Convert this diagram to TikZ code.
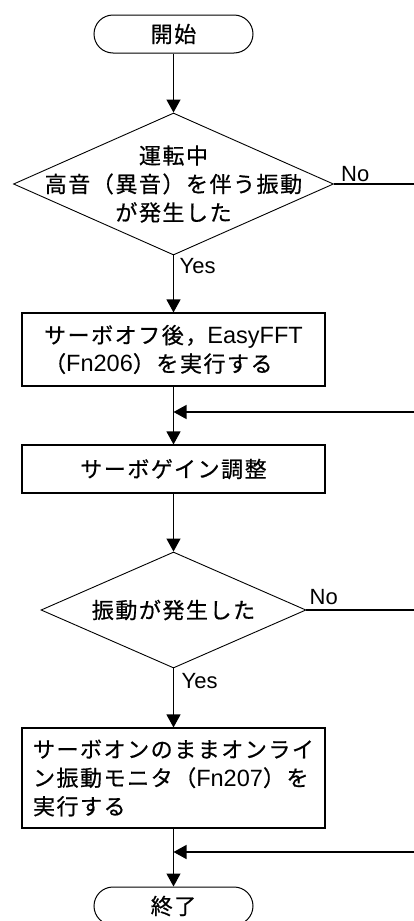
\documentclass[tikz,border=0pt]{standalone}
\usepackage{fontspec}
\setmainfont{Liberation Sans}
\newfontfamily\jp[Scale=1.0,LetterSpace=7,FakeBold=0.6]{Noto Sans CJK JP}
\newfontfamily\lat{Liberation Sans}
\newfontfamily\latb[Scale=1.07]{Liberation Sans}
\usetikzlibrary{shapes.geometric,shapes.misc,arrows.meta}
\begin{document}
\begin{tikzpicture}[x=1pt,y=-1pt,
  every node/.style={font=\fontsize{22}{28.5}\selectfont\jp},
  box/.style={draw, line width=1.1pt, minimum width=303pt, inner sep=0pt, align=left},
  term/.style={draw, rounded rectangle, line width=1pt, minimum width=159pt, minimum height=38pt, inner sep=0pt},
  dia/.style={draw, diamond, line width=0.9pt, inner sep=0pt},
  conn/.style={line width=1.2pt},
  arr/.style={conn, -{Triangle[length=13pt,width=14pt]}},
  lbl/.style={inner sep=0pt, font=\fontsize{22}{26}\selectfont\lat}
]
\useasboundingbox (0,0) rectangle (414,921);
\clip (0,0) rectangle (414,921);

% nodes
\node[term] (start) at (173.5,34) {開始};
\node[dia, minimum width=320pt, minimum height=142pt] (d1) at (173.5,184) {};
\node[align=center, inner sep=0pt] (t1) at (d1) {運転中\\高音（異音）を伴う振動\\が発生した};
\node[box, minimum height=73pt] (b1) at (173.5,349.5) {サーボオフ後，{\latb EasyFFT}\\（{\latb Fn206}）を実行する};
\node[box, minimum height=48pt, align=center] (b2) at (173.5,469) {サーボゲイン調整};
\node[dia, minimum width=265pt, minimum height=116pt] (d2) at (173.5,610) {};
\node[inner sep=0pt] (t2) at (d2) {振動が発生した};
\node[box, minimum height=100pt] (b3) at (173.5,778) {サーボオンのままオンライ\\ン振動モニタ（{\latb Fn207}）を\\実行する};
\node[term] (end) at (173.5,906) {終了};

% coordinates
\coordinate (r1) at (414,184);
\coordinate (r2) at (414,610);
\coordinate (m1) at (173.5,412);
\coordinate (r3) at (414,412);
\coordinate (m2) at (173.5,852);
\coordinate (r4) at (414,852);

% connectors
\draw[arr] (start.south) -- (d1.north);
\draw[arr] (d1.south) -- (b1.north);
\draw[conn] (d1.east) -- (r1);
\draw[arr] (b1.south) -- (b2.north);
\draw[arr] (r3) -- (m1);
\draw[arr] (b2.south) -- (d2.north);
\draw[conn] (d2.east) -- (r2);
\draw[arr] (d2.south) -- (b3.north);
\draw[arr] (b3.south) -- (end.north);
\draw[arr] (r4) -- (m2);

% labels
\node[lbl, anchor=south west] (no1) at ([xshift=7pt,yshift=2pt]d1.east) {No};
\node[lbl, anchor=north west] (yes1) at ([xshift=6pt,yshift=-3pt]d1.south) {Yes};
\node[lbl, anchor=south west] (no2) at ([xshift=3pt,yshift=5pt]d2.east) {No};
\node[lbl, anchor=north west] (yes2) at ([xshift=8pt,yshift=-5pt]d2.south) {Yes};
\end{tikzpicture}
\end{document}
